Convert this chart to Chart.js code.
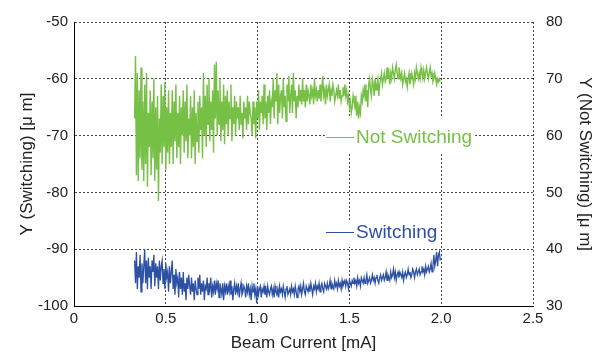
<!DOCTYPE html>
<html>
<head>
<meta charset="utf-8">
<script src="https://cdn.jsdelivr.net/npm/chart.js@4/dist/chart.umd.min.js"></script>
<style>
  html, body { margin: 0; padding: 0; background: #fff; }
  #wrap { width: 595px; height: 356px; }
</style>
</head>
<body>
<div id="wrap"><canvas id="chart" width="595" height="356"></canvas></div>
<script>
// sampling of the beam current (mA): first sample and spacing
const X_START = 0.33;
const X_STEP = 0.005;

// Not Switching, right axis [um]
const notSwitching = [
  63, 74, 53, 71, 52, 68, 56, 72, 54, 66,
  52, 69, 55, 71, 51, 64, 58, 68, 53, 66,
  56, 70, 52, 65, 54, 67, 48.5, 63, 57, 69,
  55, 67, 58, 69.5, 54, 65, 57, 68, 55, 64,
  58, 68, 55, 66, 59, 69, 56, 64, 58, 67,
  55, 65, 60, 68, 57, 66, 59, 69, 56, 63,
  60, 67, 56, 65, 58, 68, 55, 64, 59, 66,
  57, 67, 61, 65, 56, 71, 60, 67, 58, 69,
  62, 70, 59, 66, 61, 68, 57, 72.5, 63, 73,
  60, 68, 62, 70, 59, 66, 61, 69, 58.5, 67,
  62, 68, 60, 66, 63, 69, 59, 65, 62, 67,
  60, 66, 63, 65, 61, 67, 62, 64, 59.5, 66,
  63, 65, 61, 67, 62, 66, 64, 63, 60, 66,
  62, 65, 59.5, 66, 63, 68, 61, 66, 64, 67,
  62, 69, 63, 66, 61, 67, 64, 68, 62, 66,
  65, 70, 63, 68, 66, 71, 62, 69, 64, 67,
  68, 63, 70, 65, 67, 62.5, 69, 66, 70.5, 64,
  67, 69, 64, 71, 66, 68, 63, 67, 65, 69,
  66, 68, 65.5, 70, 66, 68, 65, 69, 66, 68,
  67, 65.5, 69, 67, 68, 65.5, 70, 67, 68, 66,
  68, 66.5, 69, 66, 68, 70.5, 67, 68, 65.5, 69,
  67, 68, 69, 66, 68, 67, 69, 68, 66, 67,
  68, 67, 69, 66.5, 68, 66, 67, 68.5, 67, 69,
  67, 68, 66, 67, 65, 66, 64, 65, 67, 66,
  65, 67, 63.5, 66, 63, 65, 64, 67, 66, 68,
  67, 69, 66, 68, 65, 69, 70, 68, 67, 70,
  69, 67, 70, 68, 69, 70, 67, 69, 70, 71,
  69, 70, 71, 69.5, 70, 72, 70, 71, 69, 71,
  70, 72, 71, 70, 71.5, 72.5, 71, 70, 72, 71,
  70, 71, 69, 70, 71, 69.5, 70, 68.5, 70, 71,
  69, 70, 71, 70, 69, 71, 70, 72, 71, 70,
  71, 70, 72, 71, 70, 71.5, 70, 71, 72, 71,
  70, 71, 72, 70.5, 71, 69.5, 70, 71, 70, 69,
  70, 69.5, 70, 69.5
];

// Switching, left axis [um]
const switching = [
  -92, -96, -90.5, -97, -93, -95, -91, -97.5, -92.5, -96,
  -93, -90, -96, -92, -97, -91.5, -95, -93, -97, -92,
  -94, -91, -96.5, -92.5, -95, -93, -97, -92, -95.5, -93,
  -92, -96, -93.5, -97, -92.5, -95, -94, -97.5, -93, -96,
  -94, -92, -97, -94.5, -98, -93.5, -96, -95, -98.5, -94,
  -97, -95, -98, -94, -97.5, -96, -99, -95, -97, -94.5,
  -96.5, -98, -95, -97.5, -96, -99, -95.5, -97, -98, -95,
  -97, -94.5, -98, -96, -97.5, -95.5, -99, -96.5, -97, -95,
  -98, -96, -97, -95, -98.5, -96.5, -97.5, -95.5, -98, -96,
  -97, -95.5, -98.5, -96, -97, -98, -96, -99, -96.5, -97.5,
  -96, -98, -96.5, -97.5, -95.5, -98, -96.5, -99, -97, -96,
  -98, -96.5, -97.5, -96, -98.5, -97, -96, -98, -97.5, -96.5,
  -97, -98.5, -96.5, -97.5, -96, -98, -97, -99, -96.5, -97.5,
  -96, -98, -97, -99.5, -96.5, -98, -97, -96.5, -98.5, -97,
  -97.5, -96.5, -98, -97, -98.5, -96.5, -97.5, -98, -97, -96.5,
  -98, -97, -98.5, -96.5, -97.5, -98, -97, -98.5, -96.5, -97.5,
  -97, -98, -96.5, -97.5, -98.5, -97, -96.5, -98, -97.5, -97,
  -98, -96.5, -97.5, -97, -98, -96.5, -97.5, -98.5, -97, -96.5,
  -97.5, -96.5, -98, -97, -96, -97.5, -98, -96.5, -97, -97.5,
  -96.5, -97.5, -96, -97, -98, -96.5, -97, -96, -97.5, -96.5,
  -97, -96, -97.5, -96.5, -96, -97, -97.5, -96, -96.5, -97,
  -96, -97, -96.5, -95.5, -97, -96, -96.5, -97, -95.5, -96.5,
  -96, -97, -95.5, -96.5, -96, -97, -95.5, -96.5, -96, -95.5,
  -96.5, -95.5, -96, -97, -95.5, -96, -96.5, -95.5, -96, -95,
  -96, -95.5, -96.5, -95, -96, -95.5, -96.5, -95, -95.5, -96,
  -95, -96, -95.5, -94.5, -96, -95.5, -95, -96, -95.5, -94.5,
  -95.5, -95, -96, -95, -94.5, -95.5, -96, -95, -94.5, -95.5,
  -95, -94.5, -95.5, -95, -94, -95.5, -94.5, -95, -95.5, -94,
  -95, -94.5, -93.5, -95, -94, -95.5, -94.5, -94, -95, -94,
  -94.5, -95, -94, -95.5, -94.5, -94, -95, -94.5, -93.5, -94.5,
  -94, -95, -94.5, -93.5, -94, -95, -94, -93.5, -94.5, -94,
  -93.5, -94.5, -94, -93, -94, -93.5, -94.5, -93, -94, -93.5,
  -93, -94, -93.5, -92.5, -94, -93, -91, -93, -92, -90.5,
  -93, -91, -90.5, -92
];

const xTicks = [0, 0.5, 1, 1.5, 2, 2.5];
const leftTicks = [-100, -90, -80, -70, -60, -50];
const rightTicks = [30, 40, 50, 60, 70, 80];

const GREEN = '#76c046';
const BLUE = '#2c50a4';
const GRID = '#444';
const FONT = 'Liberation Sans, Arial, sans-serif';

function toPoints(arr) {
  return arr.map((v, i) => ({ x: X_START + i * X_STEP, y: v }));
}

// legend drawn inside the plot like the original (white box hides the grid)
const innerLegend = {
  id: 'innerLegend',
  beforeDatasetsDraw(chart) {
    const ctx = chart.ctx;
    ctx.save();
    ctx.fillStyle = '#fff';
    ctx.fillRect(325, 118, 148, 34);
    ctx.fillRect(325, 221, 114, 26);
    ctx.restore();
  },
  afterDatasetsDraw(chart) {
    const ctx = chart.ctx;
    const items = [
      { text: 'Not Switching', color: GREEN, y: 137 },
      { text: 'Switching', color: BLUE, y: 232 }
    ];
    ctx.save();
    ctx.font = '19px ' + FONT;
    ctx.textBaseline = 'middle';
    items.forEach(it => {
      ctx.strokeStyle = it.color;
      ctx.lineWidth = 1;
      ctx.beginPath();
      ctx.moveTo(326, it.y + 0.5);
      ctx.lineTo(354, it.y + 0.5);
      ctx.stroke();
      ctx.fillStyle = it.color;
      ctx.fillText(it.text, 356, it.y + 1);
    });
    ctx.restore();
  }
};

function fixedTicks(list) {
  return function (scale) {
    scale.ticks = list.map(v => ({ value: v }));
  };
}

new Chart(document.getElementById('chart'), {
  type: 'line',
  data: {
    datasets: [
      {
        label: 'Not Switching',
        data: toPoints(notSwitching),
        yAxisID: 'yR',
        borderColor: GREEN,
        borderWidth: 1.4,
        pointRadius: 0,
        tension: 0
      },
      {
        label: 'Switching',
        data: toPoints(switching),
        yAxisID: 'yL',
        borderColor: BLUE,
        borderWidth: 1.3,
        pointRadius: 0,
        tension: 0
      }
    ]
  },
  options: {
    responsive: false,
    animation: false,
    layout: { padding: { top: 20, left: 0, right: 0, bottom: 0 } },
    plugins: {
      legend: { display: false },
      tooltip: { enabled: false }
    },
    scales: {
      x: {
        type: 'linear',
        min: 0, max: 2.5,
        afterBuildTicks: fixedTicks(xTicks),
        afterFit(s) { s.height = 50; },
        grid: { color: GRID, drawTicks: false },
        border: { color: '#000', dash: [2, 2] },
        ticks: { color: '#222', font: { family: FONT, size: 15 }, padding: 4, maxRotation: 0 },
        title: { display: true, text: 'Beam Current [mA]', color: '#222', font: { family: FONT, size: 17 }, padding: { bottom: 2 } }
      },
      yL: {
        position: 'left',
        min: -100, max: -50,
        afterBuildTicks: fixedTicks(leftTicks),
        afterFit(s) { s.width = 74; },
        grid: { color: GRID, drawTicks: false },
        border: { color: '#000', dash: [2, 2] },
        ticks: { color: '#222', font: { family: FONT, size: 15 }, padding: 6 },
        title: { display: true, text: 'Y (Switching) [\u03bc m]', color: '#222', font: { family: FONT, size: 17 }, padding: { top: 17 } }
      },
      yR: {
        position: 'right',
        min: 30, max: 80,
        afterBuildTicks: fixedTicks(rightTicks),
        afterFit(s) { s.width = 62; },
        grid: { display: false, drawTicks: false },
        border: { display: false },
        ticks: { color: '#222', font: { family: FONT, size: 15 }, padding: 13 },
        title: { display: true, text: 'Y (Not Switching) [\u03bc m]', color: '#222', font: { family: FONT, size: 17 }, padding: { top: 0 } }
      }
    }
  },
  plugins: [innerLegend]
});
</script>
</body>
</html>
